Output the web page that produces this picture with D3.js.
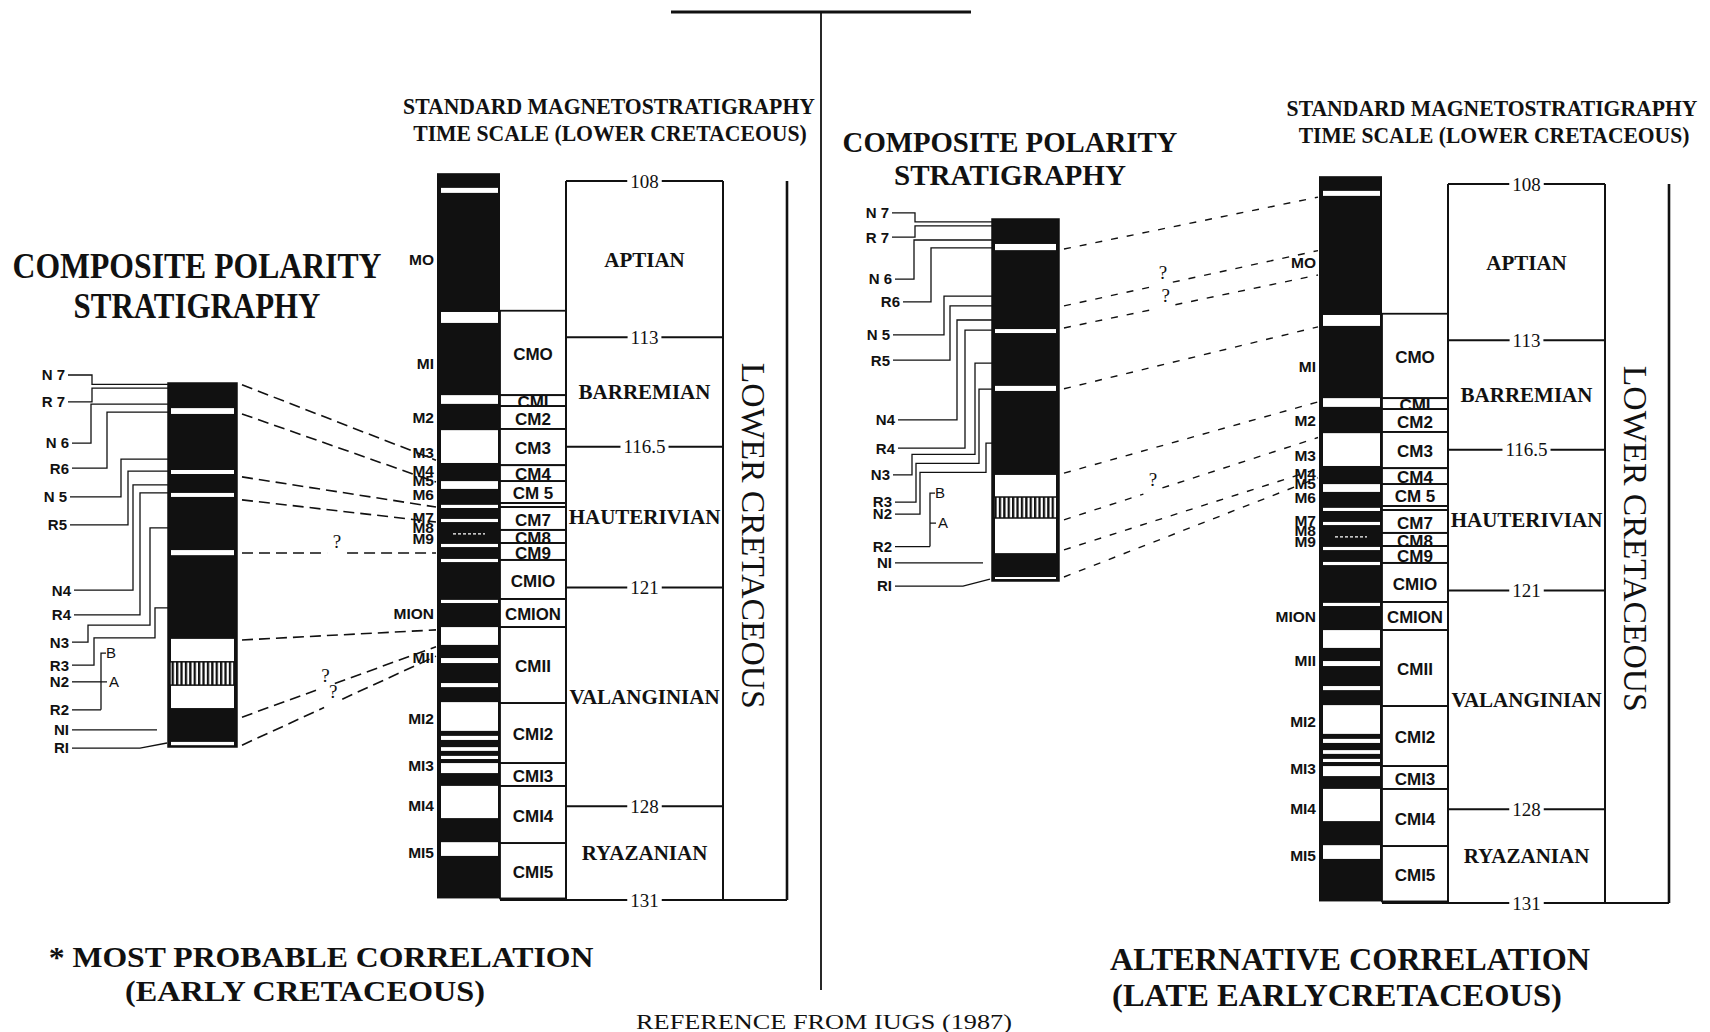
<!DOCTYPE html>
<html>
<head>
<meta charset="utf-8">
<title>Composite polarity stratigraphy correlation</title>
<script src="https://cdn.jsdelivr.net/npm/d3@7/dist/d3.min.js"></script>
<style>
  html, body { margin: 0; padding: 0; background: #fff; }
  svg { display: block; }
</style>
</head>
<body>
<script>
// ---------- Standard magnetostratigraphic time scale (ages in Ma) ----------
const ageTicks = [108, 113, 116.5, 121, 128, 131];
const stageNames = ["APTIAN", "BARREMIAN", "HAUTERIVIAN", "VALANGINIAN", "RYAZANIAN"];
const stageEdges = [108, 113, 116.5, 121, 128, 131];
const columnSpan = [107.75, 130.95];

const chronNames = ["MO", "MI", "M2", "M3", "M4", "M5", "M6", "M7", "M8", "M9",
                    "MION", "MII", "MI2", "MI3", "MI4", "MI5"];
const chronAges = [110.5, 113.85, 115.55, 116.67, 117.25, 117.57, 118.04, 118.75, 119.07, 119.42,
                   121.82, 123.23, 125.18, 126.68, 127.96, 129.47];

const cmNames = ["CMO", "CMI", "CM2", "CM3", "CM4", "CM 5", "", "CM7", "CM8", "CM9",
                 "CMIO", "CMION", "CMII", "CMI2", "CMI3", "CMI4", "CMI5"];
const cmEdges = [112.15, 114.85, 115.2, 115.93, 117.09, 117.6, 118.3, 118.43, 119.16, 119.58,
                 120.12, 121.37, 122.27, 124.7, 126.62, 127.35, 129.18, 130.95];

// reversed-polarity (white) intervals of the standard column, [top, base] in Ma
const reversedIntervals = [
  [108.22, 108.38], [112.19, 112.54], [114.85, 115.13], [115.97, 117.02], [117.60, 117.85],
  [118.36, 118.46], [118.81, 118.91], [119.61, 119.71], [120.09, 120.19], [121.40, 121.50],
  [122.27, 122.84], [123.26, 123.42], [124.06, 124.19], [124.67, 125.59], [125.75, 125.88],
  [126.11, 126.23], [126.39, 126.49], [126.62, 126.94], [127.35, 128.38], [129.15, 129.59]
];
const shortEvents = [119.29];

// ---------- Composite section (position in % of section, 0 = top) ----------
const zoneNames = ["N 7", "R 7", "N 6", "R6", "N 5", "R5", "N4", "R4", "N3", "R3", "N2", "R2", "NI", "RI"];

const compositeReversedA = [[6.9, 8.5], [23.9, 25.0], [30.2, 31.3], [45.9, 47.3], [70.3, 76.6], [83.0, 89.3], [98.6, 99.5]];
const compositeMixedA = [76.6, 83.0];
const compositeReversedB = [[6.9, 8.6], [30.4, 31.5], [46.1, 47.5], [70.7, 76.8], [82.6, 92.3], [98.9, 99.4]];
const compositeMixedB = [76.8, 82.6];

// correlation ties: composite position (%) -> standard age (Ma); q = place of the query mark along the tie
const tiesA = [
  { from: 0.5, to: 116.93 }, { from: 8.5, to: 117.63 }, { from: 25.8, to: 118.43 },
  { from: 32.1, to: 118.91 }, { from: 46.7, to: 119.9, q: 0.49 }, { from: 70.6, to: 122.36 },
  { from: 91.8, to: 122.9, q: 0.43 }, { from: 99.5, to: 123.2, q: 0.47 }
];
const tiesB = [
  { from: 8.3, to: 108.42 }, { from: 24.0, to: 110.13, q: 0.39 }, { from: 30.1, to: 110.91, q: 0.40 },
  { from: 46.9, to: 112.57 }, { from: 70.2, to: 114.97 }, { from: 83.1, to: 116.11, q: 0.35 },
  { from: 91.4, to: 117.11 }, { from: 98.9, to: 117.40 }
];

// ---------- Layout ----------
// leader routes for the zone labels: [x offset from column left edge, section %]
const leaderRoutesA = [
  [[-100, -2.2], [-76, -2.2], [-76, 0.4], [0, 0.4]],
  [[-100, 5.2], [-76, 5.2], [-76, 1.4], [0, 1.4]],
  [[-96, 16.5], [-77, 16.5], [-77, 5.8], [0, 5.8]],
  [[-96, 23.4], [-61, 23.4], [-61, 8.0], [0, 8.0]],
  [[-98, 31.3], [-47, 31.3], [-47, 20.9], [0, 20.9]],
  [[-98, 39.0], [-40, 39.0], [-40, 24.2], [0, 24.2]],
  [[-94, 56.9], [-35, 56.9], [-35, 28.0], [0, 28.0]],
  [[-94, 63.7], [-28, 63.7], [-28, 30.2], [0, 30.2]],
  [[-96, 71.2], [-80, 71.2], [-80, 66.5], [-18, 66.5], [-18, 39.8], [0, 39.8]],
  [[-96, 77.5], [-74, 77.5], [-74, 70.0], [-13, 70.0], [-13, 61.8], [0, 61.8]],
  [[-96, 82.1], [-67, 82.1]],
  [[-96, 89.8], [-67, 89.8]],
  [[-96, 95.3], [-11, 95.3]],
  [[-96, 100.3], [-28, 100.3], [-1, 98.9]]
];
const leaderRoutesB = [
  [[-100, -1.7], [-77, -1.7], [-77, 0.8], [0, 0.8]],
  [[-100, 5.0], [-77, 5.0], [-77, 1.9], [0, 1.9]],
  [[-97, 16.6], [-78, 16.6], [-78, 5.8], [0, 5.8]],
  [[-89, 22.9], [-61, 22.9], [-61, 8.0], [0, 8.0]],
  [[-99, 32.0], [-48, 32.0], [-48, 21.3], [0, 21.3]],
  [[-99, 39.0], [-42, 39.0], [-42, 24.0], [0, 24.0]],
  [[-94, 55.5], [-35, 55.5], [-35, 27.9], [0, 27.9]],
  [[-94, 63.3], [-27, 63.3], [-27, 30.7], [0, 30.7]],
  [[-99, 70.7], [-80, 70.7], [-80, 65.0], [-17, 65.0], [-17, 39.8], [0, 39.8]],
  [[-97, 78.2], [-76, 78.2], [-76, 67.5], [-13, 67.5], [-13, 47.0], [0, 47.0]],
  [[-97, 81.5], [-72, 81.5], [-72, 70.0], [-6, 70.0], [-6, 61.9], [0, 61.9]],
  [[-97, 90.5], [-62, 90.5]],
  [[-97, 95.0], [-9, 95.0]],
  [[-97, 101.4], [-29, 101.4], [-2, 99.5]]
];
const bracketA = { dx: -67, top: 74.2, mid: 82.1, bot: 89.8 };
const bracketB = { dx: -62, top: 75.7, mid: 84.0, bot: 90.5 };

const titleLines = [
  { text: "STANDARD MAGNETOSTRATIGRAPHY", x: 609, y: 114, size: 23, len: 412, bold: true },
  { text: "TIME SCALE (LOWER CRETACEOUS)", x: 610, y: 141, size: 23, len: 394, bold: true },
  { text: "STANDARD MAGNETOSTRATIGRAPHY", x: 1492, y: 116, size: 23, len: 411, bold: true },
  { text: "TIME SCALE (LOWER CRETACEOUS)", x: 1494, y: 143, size: 23, len: 391, bold: true },
  { text: "COMPOSITE POLARITY", x: 1010, y: 152, size: 30, len: 335, bold: true },
  { text: "STRATIGRAPHY", x: 1010, y: 185, size: 30, len: 232, bold: true },
  { text: "COMPOSITE POLARITY", x: 197, y: 278, size: 35, len: 369, bold: true },
  { text: "STRATIGRAPHY", x: 197, y: 318, size: 35, len: 247, bold: true },
  { text: "* MOST PROBABLE CORRELATION", x: 321, y: 967, size: 30, len: 545, bold: true },
  { text: "(EARLY CRETACEOUS)", x: 305, y: 1001, size: 30, len: 360, bold: true },
  { text: "ALTERNATIVE CORRELATION", x: 1350, y: 970, size: 31, len: 480, bold: true },
  { text: "(LATE EARLYCRETACEOUS)", x: 1337, y: 1006, size: 31, len: 450, bold: true },
  { text: "REFERENCE FROM IUGS (1987)", x: 824, y: 1029, size: 20, len: 376, bold: false }
];

const W = 1710, H = 1032, ink = "#111";
const SERIF = "'Liberation Serif','Times New Roman',Times,serif";
const SANS = "'Liberation Sans',Arial,Helvetica,sans-serif";
const COL_W = 63, CM_W = 66, STAGE_W = 157, LC_DX = 350, LC_TEXT_DX = 316;

const svg = d3.select("body").append("svg")
  .attr("width", W).attr("height", H).attr("viewBox", `0 0 ${W} ${H}`);
svg.append("rect").attr("width", W).attr("height", H).attr("fill", "#fff");
const defs = svg.append("defs");

// vertical hatching for the mixed-polarity interval
const hatch = defs.append("pattern").attr("id", "hatch")
  .attr("patternUnits", "userSpaceOnUse").attr("width", 4.4).attr("height", 8);
hatch.append("rect").attr("width", 4.4).attr("height", 8).attr("fill", "#fff");
hatch.append("rect").attr("width", 2.3).attr("height", 8).attr("fill", ink);

// white plate behind a text so that ruled lines break around it
function plate(textSel, padX, padY) {
  textSel.each(function () {
    const b = this.getBBox();
    d3.select(this.parentNode).insert("rect", () => this)
      .attr("x", b.x - padX).attr("y", b.y + padY).attr("width", b.width + 2 * padX)
      .attr("height", b.height - 2 * padY).attr("fill", "#fff");
  });
}

// centre divider
svg.append("line").attr("x1", 671).attr("x2", 971).attr("y1", 12).attr("y2", 12)
  .attr("stroke", ink).attr("stroke-width", 3);
svg.append("line").attr("x1", 821).attr("x2", 821).attr("y1", 12).attr("y2", 990)
  .attr("stroke", ink).attr("stroke-width", 1.8);

const panels = [
  { id: "a", stdX: 437, stdY: 181, compX: 168, compTop: 383, compH: 364, compW: 69,
    reversed: compositeReversedA, mixed: compositeMixedA, ties: tiesA,
    routes: leaderRoutesA, bracket: bracketA, dash: "11,6", dashW: 1.6 },
  { id: "b", stdX: 1319, stdY: 184, compX: 992, compTop: 219, compH: 362, compW: 67,
    reversed: compositeReversedB, mixed: compositeMixedB, ties: tiesB,
    routes: leaderRoutesB, bracket: bracketB, dash: "7,9", dashW: 1.4 }
];

panels.forEach(p => {
  const g = svg.append("g");
  const y = d3.scaleLinear().domain([108, 131]).range([p.stdY, p.stdY + 719]);
  const yc = d3.scaleLinear().domain([0, 100]).range([p.compTop, p.compTop + p.compH]);
  const x0 = p.stdX, xCm = x0 + COL_W, xSt = xCm + CM_W, xSt2 = xSt + STAGE_W;
  const xLc = x0 + LC_DX, xMid = (xSt + xSt2) / 2;

  // ---- correlation ties ----
  const tieG = g.append("g").attr("fill", "none").attr("stroke", ink)
    .attr("stroke-width", p.dashW).attr("stroke-dasharray", p.dash);
  p.ties.forEach(t => {
    const a = [p.compX + p.compW + 5, yc(t.from)], b = [x0 - 1, y(t.to)];
    const at = s => [a[0] + (b[0] - a[0]) * s, a[1] + (b[1] - a[1]) * s];
    if (t.q == null) {
      tieG.append("line").attr("x1", a[0]).attr("y1", a[1]).attr("x2", b[0]).attr("y2", b[1]);
    } else {
      const L = Math.hypot(b[0] - a[0], b[1] - a[1]), f = 10 / L;
      const m1 = at(t.q - f), m2 = at(t.q + f), m = at(t.q);
      tieG.append("line").attr("x1", a[0]).attr("y1", a[1]).attr("x2", m1[0]).attr("y2", m1[1]);
      tieG.append("line").attr("x1", m2[0]).attr("y1", m2[1]).attr("x2", b[0]).attr("y2", b[1]);
      g.append("text").attr("x", m[0]).attr("y", m[1] - 5).attr("text-anchor", "middle")
        .attr("font-family", SERIF).attr("font-size", 19).attr("fill", ink).text("?");
    }
  });

  // ---- standard polarity column ----
  g.append("rect").attr("x", x0).attr("y", y(columnSpan[0])).attr("width", COL_W)
    .attr("height", y(columnSpan[1]) - y(columnSpan[0])).attr("fill", ink);
  g.selectAll(null).data(reversedIntervals).join("rect")
    .attr("x", x0 + 4).attr("width", COL_W - 6)
    .attr("y", d => y(d[0])).attr("height", d => Math.max(2, y(d[1]) - y(d[0])))
    .attr("fill", "#fff");
  g.selectAll(null).data(shortEvents).join("line")
    .attr("x1", x0 + 16).attr("x2", x0 + 48).attr("y1", d => y(d)).attr("y2", d => y(d))
    .attr("stroke", "#fff").attr("stroke-width", 1.2).attr("stroke-dasharray", "3,2");

  // chron labels
  g.selectAll(null).data(chronNames).join("text")
    .attr("x", x0 - 3).attr("y", (d, i) => y(chronAges[i]))
    .attr("dy", "0.36em").attr("text-anchor", "end")
    .attr("font-family", SANS).attr("font-weight", "bold").attr("font-size", 15.5)
    .attr("fill", ink).text(d => d);

  // ---- CM (composite magnetozone) column ----
  const cmCells = cmNames.map((n, i) => ({ name: n, top: cmEdges[i], bot: cmEdges[i + 1], i }));
  cmCells.forEach(c => {
    defs.append("clipPath").attr("id", `cm-${p.id}-${c.i}`)
      .append("rect").attr("x", xCm).attr("y", y(c.top)).attr("width", CM_W)
      .attr("height", y(c.bot) - y(c.top));
  });
  g.selectAll(null).data(cmCells).join("text")
    .attr("clip-path", d => `url(#cm-${p.id}-${d.i})`)
    .attr("x", xCm + CM_W / 2).attr("y", d => (y(d.top) + y(d.bot)) / 2 + 1)
    .attr("dy", "0.36em").attr("text-anchor", "middle")
    .attr("font-family", SANS).attr("font-weight", "bold").attr("font-size", 17)
    .attr("textLength", d => d.name.length > 4 ? 56 : null)
    .attr("lengthAdjust", "spacingAndGlyphs")
    .attr("fill", ink).text(d => d.name);
  g.selectAll(null).data(cmCells).join("rect")
    .attr("x", xCm).attr("y", d => y(d.top)).attr("width", CM_W)
    .attr("height", d => y(d.bot) - y(d.top))
    .attr("fill", "none").attr("stroke", ink).attr("stroke-width", 1.8);

  // ---- stage box and age ticks ----
  const box = g.append("g").attr("stroke", ink).attr("fill", "none");
  box.append("line").attr("x1", xSt).attr("x2", xSt).attr("y1", y(108)).attr("y2", y(131)).attr("stroke-width", 2);
  box.append("line").attr("x1", xSt2).attr("x2", xSt2).attr("y1", y(108)).attr("y2", y(131)).attr("stroke-width", 2);
  box.selectAll(null).data(ageTicks).join("line")
    .attr("x1", d => d === 131 ? xCm : xSt).attr("x2", d => d === 131 ? xLc : xSt2)
    .attr("y1", d => y(d)).attr("y2", d => y(d)).attr("stroke-width", 2);
  box.append("line").attr("x1", xLc).attr("x2", xLc).attr("y1", y(108)).attr("y2", y(131))
    .attr("stroke-width", 2.6);

  const tickText = g.append("g").selectAll("text").data(ageTicks).join("text")
    .attr("x", xMid).attr("y", d => y(d)).attr("dy", "0.35em").attr("text-anchor", "middle")
    .attr("font-family", SERIF).attr("font-size", 19).attr("fill", ink).text(d => d);
  plate(tickText, 3, 3);

  const stageText = g.append("g").selectAll("text").data(stageNames).join("text")
    .attr("x", xMid).attr("y", (d, i) => y((stageEdges[i] + stageEdges[i + 1]) / 2))
    .attr("dy", "0.35em").attr("text-anchor", "middle")
    .attr("font-family", SERIF).attr("font-weight", "bold").attr("font-size", 21)
    .attr("fill", ink).text(d => d);
  plate(stageText, 0, 4);

  g.append("text")
    .attr("transform", `translate(${x0 + LC_TEXT_DX},${y(119.35)}) rotate(90)`)
    .attr("text-anchor", "middle").attr("dy", "0.33em")
    .attr("font-family", SERIF).attr("font-size", 33).attr("fill", ink)
    .attr("textLength", 346).attr("lengthAdjust", "spacingAndGlyphs")
    .text("LOWER CRETACEOUS");

  // ---- composite polarity column ----
  const cx = p.compX, cw = p.compW;
  g.append("rect").attr("x", cx).attr("y", yc(0)).attr("width", cw).attr("height", yc(100) - yc(0))
    .attr("fill", ink);
  g.selectAll(null).data(p.reversed).join("rect")
    .attr("x", cx + 3).attr("width", cw - 6)
    .attr("y", d => yc(d[0])).attr("height", d => Math.max(2, yc(d[1]) - yc(d[0])))
    .attr("fill", "#fff");
  g.append("rect").attr("x", cx + 2).attr("width", cw - 4)
    .attr("y", yc(p.mixed[0])).attr("height", yc(p.mixed[1]) - yc(p.mixed[0]))
    .attr("fill", "url(#hatch)").attr("stroke", ink).attr("stroke-width", 1.5);
  g.append("rect").attr("x", cx).attr("y", yc(0)).attr("width", cw).attr("height", yc(100) - yc(0))
    .attr("fill", "none").attr("stroke", ink).attr("stroke-width", 1.5);

  // zone labels and their leaders
  const leader = d3.line().x(d => cx + d[0]).y(d => yc(d[1]));
  g.append("g").attr("fill", "none").attr("stroke", ink).attr("stroke-width", 1.3)
    .selectAll("path").data(p.routes).join("path").attr("d", leader);
  g.selectAll(null).data(zoneNames).join("text")
    .attr("x", (d, i) => cx + p.routes[i][0][0] - 3)
    .attr("y", (d, i) => yc(p.routes[i][0][1]))
    .attr("dy", "0.36em").attr("text-anchor", "end")
    .attr("font-family", SANS).attr("font-weight", "bold").attr("font-size", 15)
    .attr("fill", ink).text(d => d);

  // A / B bracket on the lower zones
  const bk = p.bracket, bx = cx + bk.dx;
  g.append("path")
    .attr("d", `M${bx + 5},${yc(bk.top)}H${bx}V${yc(bk.bot)}M${bx},${yc(bk.mid)}H${bx + 6}`)
    .attr("fill", "none").attr("stroke", ink).attr("stroke-width", 1.3);
  g.append("text").attr("x", bx + 5).attr("y", yc(bk.top)).attr("dy", "0.36em")
    .attr("font-family", SANS).attr("font-size", 15).attr("fill", ink).text("B");
  g.append("text").attr("x", bx + 8).attr("y", yc(bk.mid)).attr("dy", "0.36em")
    .attr("font-family", SANS).attr("font-size", 15).attr("fill", ink).text("A");
});

// ---- titles and notes: condensed horizontally to their set widths ----
svg.append("g").selectAll("text").data(titleLines).join("text")
  .attr("text-anchor", "middle")
  .attr("font-family", SERIF).attr("font-weight", d => d.bold ? "bold" : "normal")
  .attr("font-size", d => d.size)
  .attr("fill", ink).text(d => d.text)
  .each(function (d) {
    const natural = this.getComputedTextLength();
    d3.select(this).attr("transform", `translate(${d.x},${d.y}) scale(${d.len / natural},1)`);
  });
</script>
</body>
</html>
